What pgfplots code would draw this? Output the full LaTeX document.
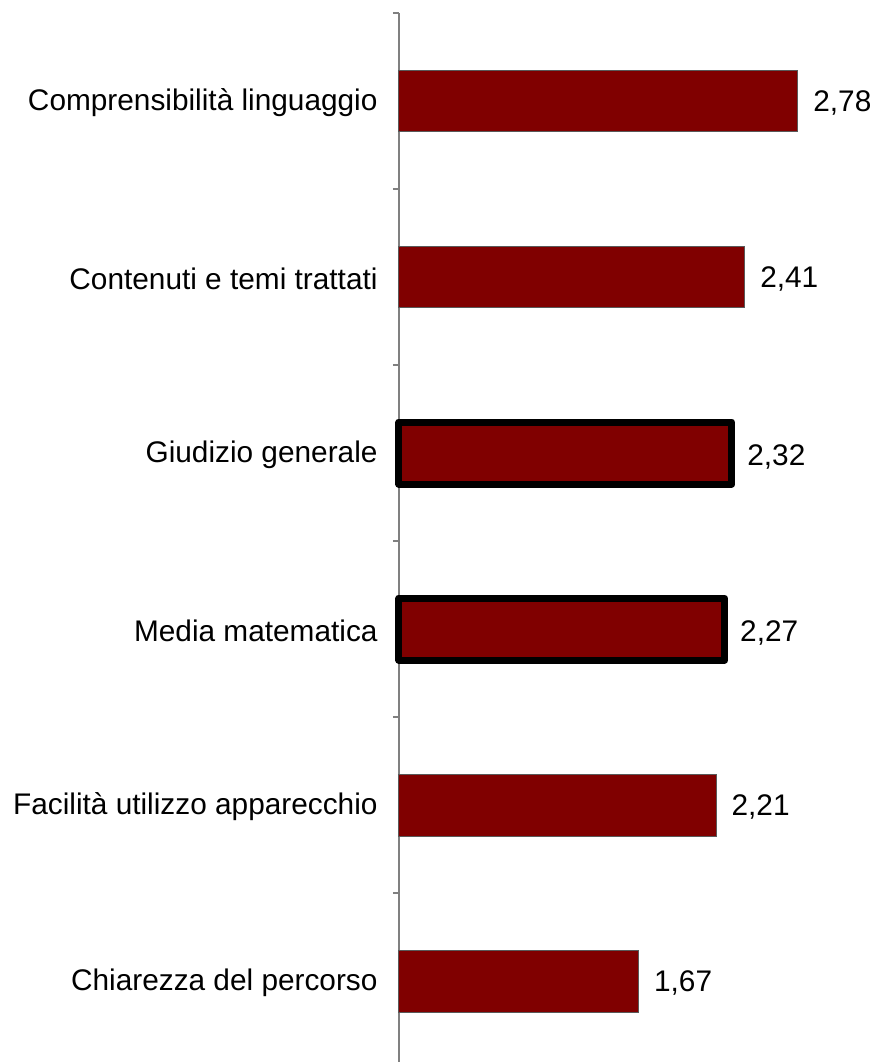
\documentclass[border=0pt]{standalone}
\usepackage{pgfplots}
\pgfplotsset{compat=1.18}
\usepackage{fontspec}
\setmainfont{Liberation Sans}
\definecolor{barred}{HTML}{800000}
\begin{document}
\begin{tikzpicture}
\begin{axis}[
  x=71.75pt, y=88pt,
  y dir=reverse,
  xmin=0, xmax=3.3,
  ymin=-0.5, ymax=5.46,
  enlargelimits=false,
  clip=false,
  axis x line=none,
  axis y line*=left,
  y axis line style={-, draw=gray, line width=1pt},
  ytick={0,1,2,3,4,5},
  yticklabels={Comprensibilità linguaggio,Contenuti e temi trattati,Giudizio generale,Media matematica,Facilità utilizzo apparecchio,Chiarezza del percorso},
  minor ytick={-0.5,0.5,1.5,2.5,3.5,4.5},
  major tick length=0pt,
  minor tick length=3pt,
  tick align=outside,
  minor tick style={draw=gray, line width=1pt},
  major tick style={draw=none},
  yticklabel style={font=\fontsize{14.9}{17}\selectfont, inner sep=0pt, xshift=-10.5pt, yshift=-0.8pt},
  xbar,
  bar width=0.352,
  nodes near coords,
  /pgf/number format/.cd, use comma, fixed, fixed zerofill, precision=2, assume math mode=true,
  /pgfplots/.cd,
  nodes near coords style={font=\fontsize{14.9}{17}\selectfont, anchor=west, inner sep=0pt, xshift=7.5pt, yshift=-1pt, text=black},
]
\addplot[bar shift=0pt, fill=barred, draw=black!65, line width=0.5pt] coordinates {
  (2.78,0) (2.41,1) (2.21,4) (1.67,5)
};
\addplot[bar shift=0pt, fill=barred, draw=black, line width=3.5pt, line join=round,
  nodes near coords style={font=\fontsize{14.9}{17}\selectfont, anchor=west, inner sep=0pt, xshift=-1.5pt, yshift=-1pt, text=black}] coordinates {
  (2.32,2) (2.27,3)
};
\coordinate (bbtl) at (axis cs:-2.780,-0.5739);
\coordinate (bbbr) at (axis cs:3.303,5.460);
\end{axis}
\pgfresetboundingbox
\path[use as bounding box] (bbtl) rectangle (bbbr);
\end{tikzpicture}
\end{document}
